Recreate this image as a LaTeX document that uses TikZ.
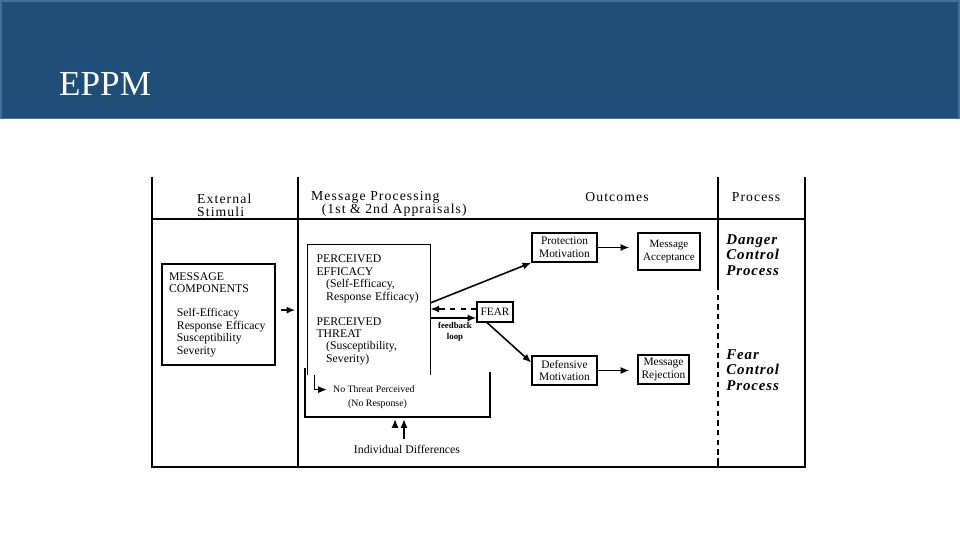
\documentclass[tikz,border=0pt]{standalone}
\usepackage{fontspec}
\setmainfont{Liberation Serif}
\usetikzlibrary{arrows.meta, positioning, calc}
\definecolor{titleblue}{HTML}{1F4E79}
\definecolor{titleedge}{HTML}{41709B}

\begin{document}
\begin{tikzpicture}[x=0.02cm, y=-0.02cm, font=\fontsize{6.7}{7.1}\selectfont,
    rule/.style={line width=0.8pt},
    box/.style={draw, line width=0.75pt, align=left, inner sep=0pt},
    flow/.style={line width=0.9pt, -{Latex[length=5pt, width=4pt]}},
    hdr/.style={font=\fontsize{7.8}{7.6}\selectfont\addfontfeature{LetterSpace=8}},
    ctl/.style={font=\fontsize{8.5}{8.8}\selectfont\bfseries\itshape\addfontfeature{LetterSpace=6},
      align=left, anchor=north west, inner sep=0pt}]
  \useasboundingbox (0,0) rectangle (960,540);
  \fill[titleblue] (0,0) rectangle (960,119);
  \draw[titleedge, line width=1pt] (0.9,0.9) rectangle (959.1,118.5);
  \node[anchor=base west, text=white, font=\fontsize{20}{24}\selectfont] (title) at (53,96) {EPPM};

  \draw[rule] (152,177) -- (152,467) -- (805,467) -- (805,177);
  \draw[rule] (152,219) -- (805,219);
  \draw[rule] (298,177) -- (298,467);
  \draw[rule] (718,177) -- (718,285);
  \draw[rule, dash pattern=on 3pt off 2.5pt] (718,285) -- (718,458);
  \draw[rule] (718,458) -- (718,467);

  \node[hdr, align=left, anchor=west] (extstim) at (191,205) {External\\Stimuli};
  \node[hdr, align=left, anchor=west] (msgproc) at (305,204)
    {Message Processing\\\hspace*{6pt}(1st \& 2nd Appraisals)};
  \node[hdr] (outcomes) at (617,197) {Outcomes};
  \node[hdr] (process) at (756,197) {Process};

  \node[box, minimum width=2.26cm, minimum height=2.02cm, text width=1.98cm] (msgcomp)
    at (218.5,314.5) {MESSAGE\\COMPONENTS\\[6.5pt]\hspace*{4.5pt}Self-Efficacy\\
    \hspace*{4.5pt}Response Efficacy\\\hspace*{4.5pt}Susceptibility\\\hspace*{4.5pt}Severity};

  \node[align=left, inner sep=0pt, minimum width=2.44cm, minimum height=2.6cm,
    text width=2.1cm] (perc) at (369,310)
    {PERCEIVED\\EFFICACY\\\hspace*{5.5pt}(Self-Efficacy,\\\hspace*{5.5pt}Response Efficacy)\\[7pt]
    PERCEIVED\\THREAT\\\hspace*{5.5pt}(Susceptibility,\\\hspace*{5.5pt}Severity)};
  \draw[line width=0.75pt] (perc.south west) -- (perc.north west) -- (perc.north east)
    -- (perc.south east);
  \draw[line width=0.75pt] (305,368) -- (305,417) -- (490,417) -- (490,372);

  \node[anchor=base west, font=\fontsize{5.6}{6.5}\selectfont] (nothreat) at (327,393)
    {No Threat Perceived};
  \node[anchor=base west, font=\fontsize{5.6}{6.5}\selectfont] (noresp) at (342,406)
    {(No Response)};
  \draw[flow] ([xshift=4pt]perc.south west) |- (nothreat.west);

  \node[box, minimum width=0.72cm, minimum height=0.4cm, font=\fontsize{6.4}{7}\selectfont]
    (fear) at (495,312) {FEAR};
  \draw[flow, dashed] ([yshift=1.7pt]fear.west) -- ([yshift=1.7pt]fear.west -| perc.east);
  \draw[flow] ([yshift=-3.4pt]fear.west -| perc.east) -- ([yshift=-3.4pt]fear.west);
  \node[font=\fontsize{5}{6}\selectfont\bfseries, align=center] (fbloop) at (455,332)
    {feedback\\loop};

  \node[box, align=center, minimum width=1.3cm, minimum height=0.58cm,
    font=\fontsize{6.5}{7.2}\selectfont] (protmot) at (564.5,247.5) {Protection\\Motivation};
  \node[box, align=center, minimum width=1.24cm, minimum height=0.74cm,
    font=\fontsize{6.3}{7.2}\selectfont] (msgacc) at (669,251.5) {Message\\Acceptance};
  \node[box, align=center, minimum width=1.3cm, minimum height=0.58cm,
    font=\fontsize{6.5}{7.2}\selectfont] (defmot) at (564.5,370.5) {Defensive\\Motivation};
  \node[box, align=center, minimum width=1.02cm, minimum height=0.58cm,
    font=\fontsize{6.5}{7.2}\selectfont] (msgrej) at (663.5,369.5) {Message\\Rejection};

  \draw[flow, shorten <=3pt, shorten >=7pt] ([yshift=2.5pt]msgcomp.east)
    -- ([yshift=2.5pt]msgcomp.east -| perc.west);
  \draw[flow] ([yshift=4pt]perc.east) -- (protmot.south west);
  \draw[flow] ([xshift=-4.5pt]fear.south) -- ([yshift=4.5pt]defmot.west);
  \draw[flow, shorten >=4.5pt] (protmot.east) -- (protmot.east -| msgacc.west);
  \draw[flow, shorten >=4.5pt] (defmot.east) -- (defmot.east -| msgrej.west);

  \node[ctl] (dangerctl) at (726,234) {Danger\\Control\\Process};
  \node[ctl] (fearctl) at (726,349) {Fear\\Control\\Process};

  \node[font=\fontsize{6.7}{7}\selectfont] (indiv) at (407,449) {Individual Differences};
  \coordinate (diffin) at (400,419);
  \draw[flow] ([xshift=-1.7pt]indiv.north) -- ([xshift=-1.7pt]indiv.north |- diffin);
  \draw[flow] ([xshift=-6.8pt, yshift=6pt]indiv.north) -- ([xshift=-6.8pt]indiv.north |- diffin);
\end{tikzpicture}
\end{document}
